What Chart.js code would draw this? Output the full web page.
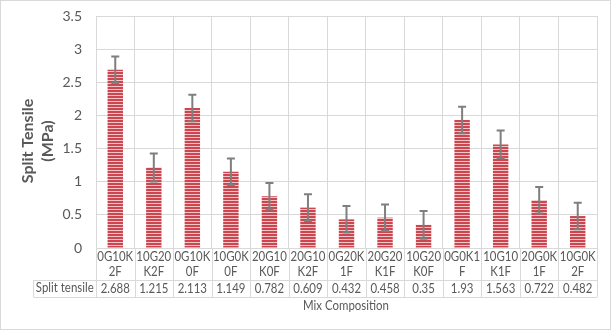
<!DOCTYPE html>
<html>
<head>
<meta charset="utf-8">
<script src="https://cdn.jsdelivr.net/npm/chart.js@4/dist/chart.umd.min.js"></script>
<style>
  html, body { margin: 0; padding: 0; background: #fff; }
  canvas { display: block; }
</style>
</head>
<body>
<canvas id="myChart" width="611" height="330"></canvas>
<script>
const categories = [
  ['0G10K', '2F'], ['10G20', 'K2F'], ['0G10K', '0F'], ['10G0K', '0F'],
  ['20G10', 'K0F'], ['20G10', 'K2F'], ['0G20K', '1F'], ['20G20', 'K1F'],
  ['10G20', 'K0F'], ['0G0K1', 'F'], ['10G10', 'K1F'], ['20G0K', '1F'], ['10G0K', '2F']
];
const seriesName = 'Split tensile';
const splitTensile = [2.688, 1.215, 2.113, 1.149, 0.782, 0.609, 0.432, 0.458, 0.35, 1.93, 1.563, 0.722, 0.482];
const errorSize = [0.2, 0.21, 0.2, 0.2, 0.2, 0.2, 0.2, 0.2, 0.21, 0.2, 0.21, 0.2, 0.2];
const yTitle = ['Split Tensile', '(MPa)'];
const xTitle = 'Mix Composition';

const textColor = '#595959';
const lineColor = '#d9d9d9';
const fontName = 'Lato, "Open Sans", sans-serif';

// horizontal stripe fill like the Excel pattern
function stripes() {
  const c = document.createElement('canvas');
  c.width = 4;
  c.height = 3;
  const g = c.getContext('2d');
  g.fillStyle = '#cc4650';
  g.fillRect(0, 0, 4, 2);
  g.fillStyle = '#f3c4c7';
  g.fillRect(0, 2, 4, 1);
  return g.createPattern(c, 'repeat');
}

// Lato is wider than Calibri, squeeze it a bit
function narrowText(ctx, text, x, y) {
  ctx.save();
  ctx.translate(x, y);
  ctx.scale(0.88, 1);
  ctx.fillText(text, 0, 0);
  ctx.restore();
}

const errorBarsPlugin = {
  id: 'errorBars',
  afterDatasetsDraw(chart) {
    const ctx = chart.ctx;
    const y = chart.scales.y;
    const meta = chart.getDatasetMeta(0);
    ctx.save();
    ctx.strokeStyle = '#7f7f7f';
    ctx.lineWidth = 2;
    meta.data.forEach(function (bar, i) {
      const top = y.getPixelForValue(splitTensile[i] + errorSize[i]);
      const bot = y.getPixelForValue(splitTensile[i] - errorSize[i]);
      ctx.beginPath();
      ctx.moveTo(bar.x, top);
      ctx.lineTo(bar.x, bot);
      ctx.moveTo(bar.x - 4, top);
      ctx.lineTo(bar.x + 4, top);
      ctx.moveTo(bar.x - 4, bot);
      ctx.lineTo(bar.x + 4, bot);
      ctx.stroke();
    });
    ctx.restore();
  }
};

const tablePlugin = {
  id: 'dataTable',
  afterDraw(chart) {
    const ctx = chart.ctx;
    const area = chart.chartArea;
    const n = categories.length;
    const w = (area.right - area.left) / n;
    const rowTop = area.bottom + 32;
    const rowBottom = area.bottom + 49;
    const headLeft = 33.5;

    ctx.save();
    ctx.strokeStyle = lineColor;
    ctx.lineWidth = 1;
    ctx.beginPath();
    for (let i = 0; i <= n; i++) {
      const x = Math.round(area.left + i * w) + 0.5;
      ctx.moveTo(x, area.bottom);
      ctx.lineTo(x, rowBottom);
    }
    ctx.moveTo(headLeft, Math.round(rowTop) + 0.5);
    ctx.lineTo(area.right, Math.round(rowTop) + 0.5);
    ctx.moveTo(headLeft, Math.round(rowBottom) + 0.5);
    ctx.lineTo(area.right, Math.round(rowBottom) + 0.5);
    ctx.moveTo(headLeft, rowTop);
    ctx.lineTo(headLeft, rowBottom);
    ctx.stroke();

    ctx.fillStyle = textColor;
    ctx.font = '13px ' + fontName;
    ctx.textAlign = 'center';
    ctx.textBaseline = 'middle';
    categories.forEach(function (lab, i) {
      const cx = area.left + (i + 0.5) * w;
      narrowText(ctx, lab[0], cx, area.bottom + 9);
      narrowText(ctx, lab[1], cx, area.bottom + 24);
      narrowText(ctx, String(splitTensile[i]), cx, area.bottom + 41);
    });
    narrowText(ctx, seriesName, (headLeft + area.left) / 2, area.bottom + 40);
    narrowText(ctx, xTitle, 346, area.bottom + 58);

    // y axis title
    ctx.font = 'bold 16px ' + fontName;
    ctx.translate(28, 141);
    ctx.rotate(-Math.PI / 2);
    ctx.fillText(yTitle[0], 0, 0);
    ctx.fillText(yTitle[1], 0, 20);
    ctx.restore();

    // outer frame
    ctx.save();
    ctx.strokeStyle = lineColor;
    ctx.strokeRect(0.5, 0.5, chart.width - 1, chart.height - 1);
    ctx.restore();
  }
};

const ctx = document.getElementById('myChart').getContext('2d');

const chart = new Chart(ctx, {
  type: 'bar',
  data: {
    labels: categories,
    datasets: [{
      label: seriesName,
      data: splitTensile,
      backgroundColor: stripes(),
      borderWidth: 0,
      barPercentage: 0.4,
      categoryPercentage: 1,
    }]
  },
  options: {
    responsive: false,
    animation: false,
    layout: {
      padding: { left: 0, right: 14, top: 16, bottom: 82 },
    },
    plugins: {
      legend: { display: false },
      tooltip: { enabled: false },
    },
    scales: {
      x: {
        grid: { color: lineColor, offset: true, drawTicks: false },
        border: { color: lineColor },
        ticks: { display: false },
        afterFit: function (scale) { scale.height = 0; },
      },
      y: {
        min: 0,
        max: 3.5,
        ticks: {
          stepSize: 0.5,
          color: textColor,
          padding: 14,
          font: { family: fontName, size: 14 },
          callback: function (value) { return String(value); },
        },
        grid: { color: lineColor, drawTicks: false },
        border: { display: false },
        afterFit: function (scale) {
          scale.width = 96;
          // tick padding would otherwise push the plot top down
          scale.paddingTop = 8;
          scale.paddingBottom = 8;
        },
      }
    }
  },
  plugins: [errorBarsPlugin, tablePlugin],
});
</script>
</body>
</html>
